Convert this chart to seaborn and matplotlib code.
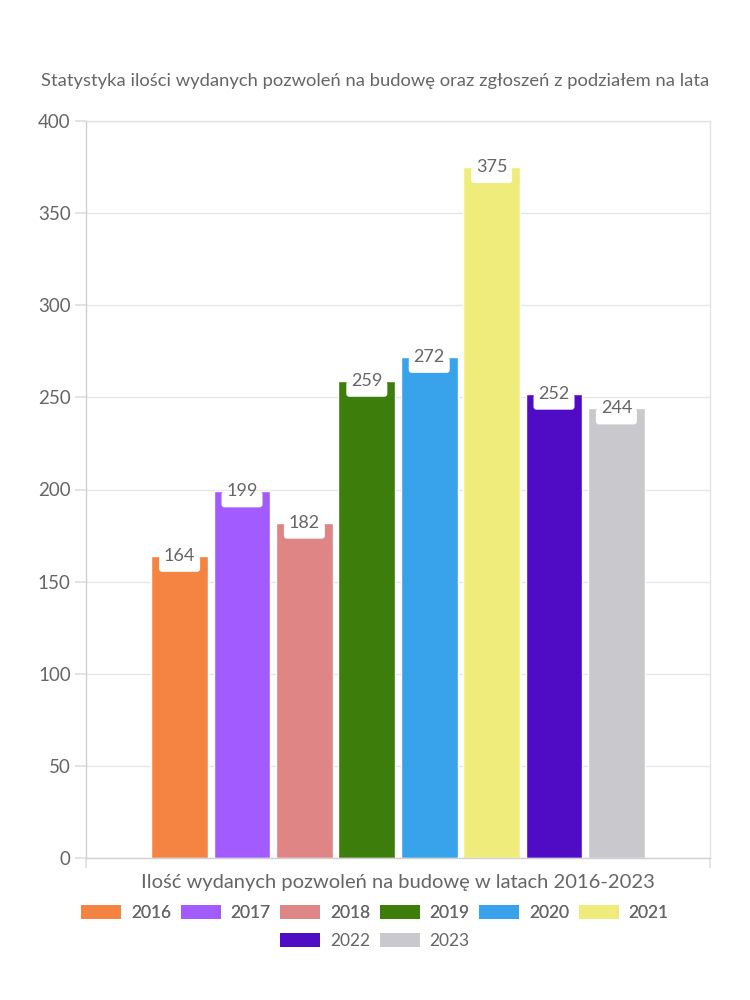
import matplotlib
matplotlib.use("Agg")
import matplotlib.pyplot as plt
import matplotlib.transforms as mtransforms
from matplotlib.patches import Patch, FancyBboxPatch
import seaborn as sns
import pandas as pd

years = ["2016", "2017", "2018", "2019", "2020", "2021", "2022", "2023"]
values = [164, 199, 182, 259, 272, 375, 252, 244]
colors = ["#F58442", "#A25BFE", "#E08585", "#3D7D0C", "#38A3EA", "#F0EC7C", "#500BC4", "#C9C9CD"]
category = "Ilość wydanych pozwoleń na budowę w latach 2016-2023"
title = "Statystyka ilości wydanych pozwoleń na budowę oraz zgłoszeń z podziałem na lata"
yticks = [0, 50, 100, 150, 200, 250, 300, 350, 400]

sns.set_theme(style="white")
plt.rcParams["font.family"] = ["Lato", "DejaVu Sans"]
txt = "#666666"

df = pd.DataFrame({"cat": [category] * len(years), "year": years, "value": values})

fig = plt.figure(figsize=(7.5, 10), dpi=100)
ax = fig.add_axes([0.1147, 0.142, 0.832, 0.737])
sns.barplot(data=df, x="cat", y="value", hue="year", palette=colors,
            width=0.8, gap=0.09, saturation=1, legend=False, ax=ax)

ax.set_xlim(-0.5, 0.5)
ax.set_ylim(0, 400)
ax.set_yticks(yticks)
ax.set_yticklabels([str(t) for t in yticks], color=txt, fontsize=13.5)
ax.set_xticks([-0.5, 0.5])
ax.set_xticklabels(["", ""])
ax.set_xlabel(category, color=txt, fontsize=14.5, labelpad=1)
ax.set_ylabel("")
ax.yaxis.grid(True, color="#e6e6e6", linewidth=1)
ax.set_axisbelow(True)
for s in ax.spines.values():
    s.set_color("#e3e3e3")
    s.set_linewidth(1)
ax.spines["left"].set_color("#d0d0d0")
ax.spines["bottom"].set_color("#d0d0d0")
ax.tick_params(axis="y", length=8, color="#e0e0e0", pad=3, left=True)
ax.tick_params(axis="x", length=7, color="#e0e0e0", bottom=True)

for cont in ax.containers:
    for bar in cont:
        h = bar.get_height()
        xc = bar.get_x() + bar.get_width() / 2
        trans = mtransforms.ScaledTranslation(xc, h, ax.transData)
        box = FancyBboxPatch((-20.5, -16), 41, 16, boxstyle="round,pad=0,rounding_size=3",
                             transform=trans, facecolor="white", edgecolor="none",
                             clip_on=False, zorder=3)
        ax.add_patch(box)
        ax.annotate(f"{int(round(h))}", (xc, h), xytext=(0, 0), textcoords="offset points",
                    ha="center", va="center", fontsize=13, color=txt, zorder=4)

fig.text(0.5, 0.919, title, ha="center", va="center", fontsize=13.2, color=txt)

handles = [Patch(facecolor=c, edgecolor="none") for c in colors]
common = dict(loc="center", frameon=False, fontsize=12.5, handlelength=2.3, handleheight=0.8,
              columnspacing=0.55, handletextpad=0.57, labelcolor=txt)
leg1 = fig.legend(handles[:6], years[:6], bbox_to_anchor=(0.5, 0.087), ncol=6, **common)
leg2 = fig.legend(handles[6:], years[6:], bbox_to_anchor=(0.5, 0.059), ncol=2, **common)
fig.add_artist(leg1)

fig.savefig("out.png", dpi=100, facecolor="white")
